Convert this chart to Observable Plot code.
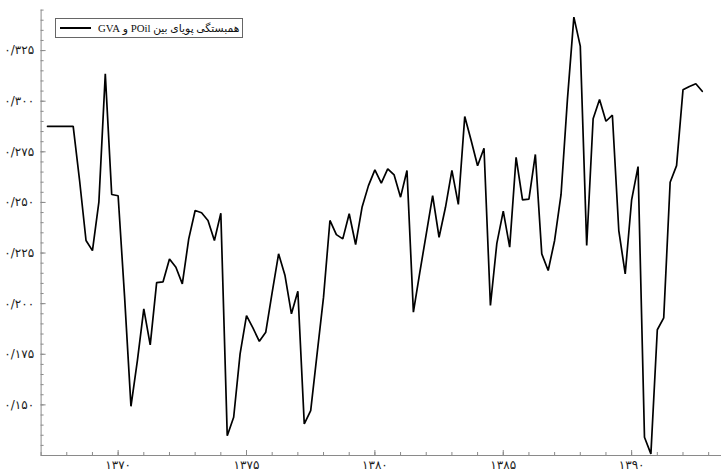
<!DOCTYPE html>
<html>
<head>
<meta charset="utf-8">
<script src="https://cdn.jsdelivr.net/npm/d3@7"></script>
<script src="https://cdn.jsdelivr.net/npm/@observablehq/plot@0.6"></script>
<style>
  body { margin: 0; background: #fff; }
  #wrap { position: relative; width: 721px; height: 476px; }
  #wrap svg { display: block; }
  #legend {
    position: absolute; left: 55px; top: 18px; width: 188px; height: 20px;
    box-sizing: border-box; border: 1px solid #666; background: #fff;
    display: flex; align-items: center; padding-left: 4px;
    font-family: "Liberation Serif", "DejaVu Sans", serif; font-size: 10.8px; color: #111;
    white-space: nowrap; overflow: hidden;
  }
  #legend .sw { width: 31px; height: 2px; background: #000; margin-right: 7px; flex: none; }
</style>
</head>
<body>
<div id="wrap"></div>
<script>
// ---- data ----
const seriesName = "همبستگی پویای بین POil و GVA";
const startYear = 1367;
const startQuarter = 2; // first observation: 2nd quarter of 1367
const values = [
  0.2876, 0.2876, 0.2876, 0.2876, 0.2876, 0.2607, 0.2312, 0.2262, 0.2501, 0.3135,
  0.2539, 0.2533, 0.2037, 0.1493, 0.1719, 0.1974, 0.1796, 0.2104, 0.2108, 0.2221,
  0.2180, 0.2098, 0.2320, 0.2460, 0.2449, 0.2411, 0.2312, 0.2447, 0.1348, 0.1439,
  0.1752, 0.1941, 0.1880, 0.1814, 0.1859, 0.2056, 0.2246, 0.2139, 0.1950, 0.2061,
  0.1406, 0.1472, 0.1753, 0.2032, 0.2411, 0.2341, 0.2320, 0.2444, 0.2292, 0.2476,
  0.2583, 0.2661, 0.2595, 0.2666, 0.2636, 0.2526, 0.2658, 0.1958, 0.2154, 0.2344,
  0.2534, 0.2328, 0.2476, 0.2658, 0.2490, 0.2924, 0.2806, 0.2681, 0.2768, 0.1991,
  0.2298, 0.2457, 0.2279, 0.2723, 0.2513, 0.2516, 0.2737, 0.2246, 0.2164, 0.2312,
  0.2538, 0.3010, 0.3415, 0.3272, 0.2287, 0.2913, 0.3008, 0.2901, 0.2931, 0.2361,
  0.2147, 0.2513, 0.2677, 0.1340, 0.1258, 0.1871, 0.1930, 0.2600, 0.2682, 0.3056,
  0.3073, 0.3086, 0.3049
];
const xMajorTicks = [1370, 1375, 1380, 1385, 1390];
const xMinorTicks = d3.range(1367, 1394, 1);
const yMajorTicks = [0.150, 0.175, 0.200, 0.225, 0.250, 0.275, 0.300, 0.325];
const yMinorTicks = d3.range(0.125, 0.3451, 0.005).map(v => +v.toFixed(3));
const xDomain = [1367, 1393.5];
const yDomain = [0.125, 0.345];

// ---- helpers ----
const faDigits = "۰۱۲۳۴۵۶۷۸۹";
const toFa = s => String(s).replace(/[0-9]/g, d => faDigits[+d]);
const fmtY = v => toFa(v.toFixed(3)).replace(".", "/");
const fmtX = v => toFa(v);

const data = values.map((v, i) => ({t: startYear + (startQuarter - 1 + i) / 4, v}));

const axisColor = "#8a8a8a";
const chart = Plot.plot({
  width: 721,
  height: 476,
  marginLeft: 40.6,
  marginRight: 0,
  marginTop: 9.6,
  marginBottom: 21,
  x: {domain: xDomain, label: null},
  y: {domain: yDomain, label: null},
  style: {fontFamily: "'DejaVu Sans', sans-serif", fontSize: "12px", background: "#fff", color: "#1a1a1a"},
  marks: [
    Plot.ruleX([xDomain[0]], {stroke: axisColor}),
    Plot.ruleY([yDomain[0]], {stroke: axisColor}),
    Plot.axisY(yMinorTicks, {tickSize: 3, dx: 3, tickFormat: () => "", stroke: axisColor}),
    Plot.axisY(yMajorTicks, {tickSize: 5, dx: 5, tickFormat: () => "", stroke: axisColor}),
    Plot.axisY(yMajorTicks, {tickSize: 0, tickPadding: 7, tickFormat: fmtY, fontSize: 12}),
    Plot.axisX(xMinorTicks, {tickSize: 3, dy: -3, tickFormat: () => "", stroke: axisColor}),
    Plot.axisX(xMajorTicks, {tickSize: 5, dy: -5, tickFormat: () => "", stroke: axisColor}),
    Plot.axisX(xMajorTicks, {tickSize: 0, tickPadding: 5, tickFormat: fmtX, fontSize: 12}),
    Plot.line(data, {x: "t", y: "v", stroke: "#000", strokeWidth: 1.7, strokeLinejoin: "miter"})
  ]
});

const wrap = document.getElementById("wrap");
wrap.appendChild(chart);
const legend = document.createElement("div");
legend.id = "legend";
legend.innerHTML = `<div class="sw"></div><span dir="rtl">${seriesName}</span>`;
wrap.appendChild(legend);
</script>
</body>
</html>
